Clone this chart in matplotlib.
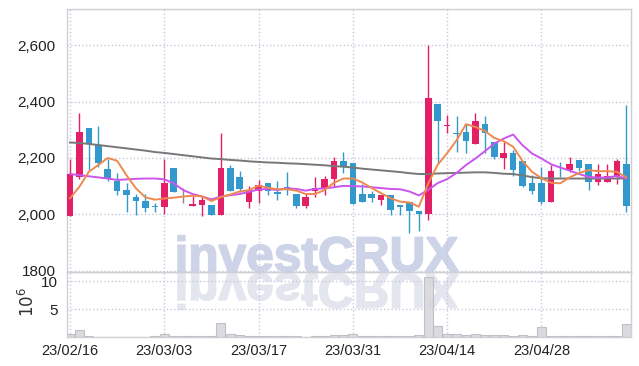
import matplotlib
matplotlib.use("Agg")
import matplotlib.pyplot as plt
import numpy as np
from matplotlib.textpath import TextPath
from matplotlib.patches import PathPatch
from matplotlib.font_manager import FontProperties
from matplotlib.transforms import Affine2D

plt.rcParams['font.family'] = ['Liberation Sans Narrow', 'Liberation Sans', 'DejaVu Sans']

# data (price in won, volume in millions)
dates = ['23/02/16', '23/03/03', '23/03/17', '23/03/31', '23/04/14', '23/04/28']
opens = [1995, 2133, 2306, 2247, 2160, 2120, 2086, 2061, 2047, 2028,
         2025, 2166, 2063, 2030, 2033, 2033, 1998, 2166, 2131, 2045,
         2084, 2110, 2080, 2096, 2071, 2031, 2083, 2092, 2127, 2189,
         2182, 2073, 2073, 2049, 2069, 2033, 2043, 2012, 2000, 2390,
         2313, 2287, 2291, 2251, 2322, 2257, 2200, 2218, 2189, 2110,
         2110, 2045, 2155, 2157, 2192, 2178, 2116, 2116, 2133, 2178]
highs = [2195, 2360, 2306, 2313, 2198, 2145, 2112, 2072, 2072, 2041,
         2195, 2166, 2094, 2065, 2065, 2033, 2287, 2175, 2155, 2100,
         2122, 2110, 2118, 2151, 2071, 2074, 2131, 2136, 2204, 2222,
         2182, 2108, 2081, 2069, 2069, 2033, 2043, 2012, 2602, 2390,
         2352, 2348, 2322, 2360, 2348, 2257, 2257, 2228, 2189, 2139,
         2169, 2175, 2186, 2204, 2192, 2178, 2180, 2180, 2195, 2387]
lows = [1995, 2127, 2157, 2169, 2119, 2070, 2009, 1998, 2007, 2007,
        2001, 2080, 2041, 2030, 1995, 1998, 1998, 2084, 2080, 2021,
        2039, 2068, 2051, 2068, 2021, 2021, 2063, 2068, 2098, 2145,
        2036, 2045, 2042, 2033, 1996, 1998, 1932, 1940, 1980, 2182,
        2287, 2222, 2218, 2251, 2218, 2196, 2160, 2136, 2098, 2071,
        2035, 2045, 2131, 2151, 2153, 2086, 2104, 2116, 2106, 2009]
closes = [2143, 2291, 2251, 2181, 2127, 2084, 2068, 2047, 2024, 2025,
          2110, 2080, 2063, 2035, 2051, 1998, 2166, 2084, 2090, 2086,
          2104, 2084, 2071, 2091, 2031, 2060, 2092, 2127, 2189, 2169,
          2036, 2045, 2057, 2069, 2015, 2025, 2010, 2000, 2412, 2331,
          2317, 2284, 2261, 2330, 2287, 2204, 2218, 2159, 2100, 2084,
          2045, 2153, 2152, 2178, 2165, 2116, 2143, 2136, 2189, 2031]
volume = [0.6, 1.3, 0.15, 0.1, 0.1, 0.12, 0.1, 0.1, 0.1, 0.15,
          0.55, 0.25, 0.2, 0.15, 0.2, 0.3, 2.5, 0.55, 0.4, 0.2,
          0.2, 0.15, 0.15, 0.2, 0.15, 0.1, 0.2, 0.15, 0.5, 0.4,
          0.55, 0.2, 0.15, 0.2, 0.3, 0.2, 0.3, 0.5, 10.7, 2.1,
          0.55, 0.55, 0.45, 0.6, 0.45, 0.4, 0.35, 0.3, 0.35, 0.2,
          1.9, 0.2, 0.15, 0.15, 0.15, 0.2, 0.15, 0.15, 0.3, 2.35]
ma5 = [2057, 2098, 2151, 2175, 2200, 2190, 2138, 2092, 2060, 2052,
       2056, 2059, 2063, 2066, 2064, 2047, 2061, 2070, 2081, 2086,
       2102, 2094, 2089, 2089, 2084, 2072, 2072, 2086, 2112, 2127,
       2127, 2113, 2093, 2075, 2057, 2045, 2042, 2027, 2110, 2176,
       2217, 2263, 2320, 2310, 2296, 2271, 2260, 2240, 2189, 2151,
       2128, 2112, 2110, 2131, 2147, 2157, 2153, 2153, 2151, 2131]
ma20 = [2143, 2139, 2135, 2131, 2127, 2122, 2124, 2126, 2127, 2127,
        2124, 2110, 2086, 2072, 2063, 2053, 2063, 2068, 2072, 2080,
        2088, 2090, 2086, 2092, 2090, 2084, 2090, 2092, 2096, 2101,
        2100, 2099, 2096, 2093, 2090, 2089, 2081, 2067, 2087, 2111,
        2125, 2147, 2175, 2198, 2224, 2251, 2269, 2283, 2245, 2216,
        2198, 2178, 2166, 2155, 2143, 2133, 2130, 2131, 2136, 2127]
ma60 = [2255, 2253, 2250, 2246, 2242, 2238, 2234, 2230, 2226, 2221,
        2218, 2214, 2210, 2206, 2202, 2198, 2196, 2193, 2191, 2188,
        2186, 2184, 2183, 2181, 2180, 2178, 2176, 2174, 2171, 2169,
        2166, 2162, 2159, 2156, 2153, 2150, 2146, 2143, 2143, 2145,
        2146, 2147, 2148, 2149, 2149, 2147, 2144, 2143, 2138, 2132,
        2128, 2127, 2127, 2127, 2127, 2127, 2127, 2127, 2127, 2127]

RED = '#e31f66'
BLUE = '#3399cc'
GRID = '#c9c9dc'

fig = plt.figure(figsize=(6.39, 3.66), dpi=100)
ax = fig.add_axes([0.1041, 0.256, 0.8834, 0.7194])
axv = fig.add_axes([0.1041, 0.0784, 0.8834, 0.1776], sharex=ax)
for a in (ax, axv):
    a.set_facecolor('none')
    for s in a.spines.values():
        s.set_color('#cfcfd6')
        s.set_linewidth(1.0)

# watermark + reflection, in pixel coords
fp = FontProperties(family=['Liberation Sans', 'DejaVu Sans'], weight='bold')
tp = TextPath((0, 0), 'investCRUX', size=50, prop=fp)
bb = tp.get_extents()
x0, x1, ytop, ybase = 178, 458, 366 - 233, 366 - 271
sx = (x1 - x0) / bb.width
sy = (ytop - ybase) / (bb.y1 - 0) * 0.93
t1 = Affine2D().translate(-bb.x0, 0).scale(sx, sy).translate(x0, ybase)
fig.patches.append(PathPatch(t1.transform_path(tp), fc='#cdd4e8', ec='#cdd4e8', lw=1.2,
                             transform=None, zorder=-2, figure=fig))
t2 = Affine2D().translate(-bb.x0, 0).scale(sx, -sy).translate(x0, ybase - 3)
fig.patches.append(PathPatch(t2.transform_path(tp), fc='#e3e5ef', ec='#e3e5ef', lw=1.2,
                             transform=None, zorder=-2, figure=fig))

x = np.arange(len(closes))
o = np.array(opens)
c = np.array(closes)
cols = [RED if cc > oo else (BLUE if cc < oo else '#888888') for oo, cc in zip(o, c)]
ax.vlines(x, lows, highs, colors=cols, lw=1.0, zorder=3)
h = np.maximum(np.abs(c - o), 3)
ax.bar(x, h, bottom=np.minimum(o, c), width=0.7, color=cols, zorder=4)

ax.plot(x, ma60, color='#777777', lw=1.4, zorder=5)
ax.plot(x, ma20, color='#cc55ee', lw=1.4, zorder=5)
ax.plot(x, ma5, color='#ee8a50', lw=1.4, zorder=5)

ax.set_xlim(-0.37, 59.5)
ax.set_ylim(1794, 2729)
ax.set_yticks([1800, 2000, 2200, 2400, 2600])
ax.set_yticklabels(['1800', '2,000', '2,200', '2,400', '2,600'])
ax.grid(True, ls=':', color=GRID, lw=1.0)
ax.set_axisbelow(True)
ax.tick_params(axis='both', length=0, labelsize=11, colors='#222222', pad=8)
ax.tick_params(axis='x', labelbottom=False)

axv.bar(x, volume, width=0.95, color='#d6d6dc', edgecolor='#bcbcc4', lw=0.8, alpha=0.9, zorder=3)
axv.set_ylim(0, 11.6)
axv.set_yticks([5, 10])
axv.set_yticklabels(['5', '10'])
axv.set_xticks(np.arange(0, 60, 10))
axv.set_xticklabels(dates)
axv.grid(True, ls=':', color=GRID, lw=1.0)
axv.set_axisbelow(True)
axv.tick_params(axis='y', length=0, labelsize=11, colors='#222222', pad=6)
axv.tick_params(axis='x', length=0, labelsize=10.5, colors='#222222', pad=5)
axv.set_ylabel(r'$10^6$', fontsize=12, color='#333333')
axv.yaxis.set_label_coords(-0.052, 0.54)

fig.savefig('out.png', dpi=100, facecolor='white')
